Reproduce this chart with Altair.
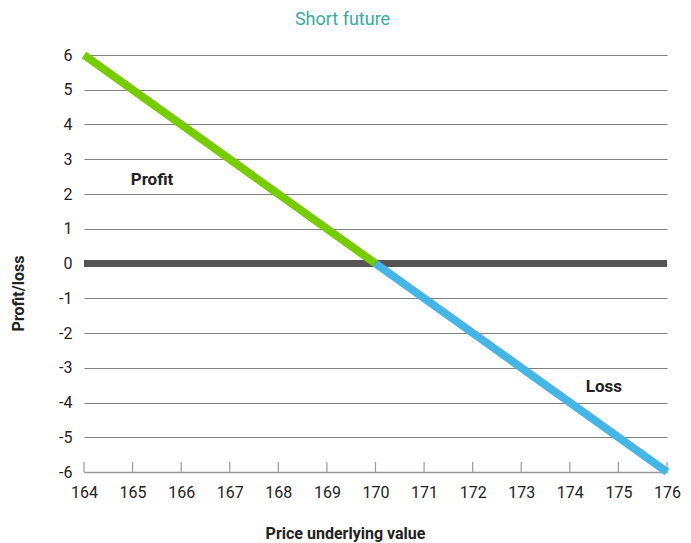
import altair as alt
import pandas as pd

price = [164, 170, 176]
profit_line = [6, 0, None]
loss_line = [None, 0, -6]
x_ticks = list(range(164, 177))
y_ticks = list(range(-6, 7))
labels_text = ["Profit", "Loss"]
labels_x = [165.4, 174.7]
labels_y = [2.4, -3.55]

W, H = 583, 417
FONT = "Roboto"

rows = []
for p, v in zip(price, profit_line):
    if v is not None:
        rows.append({"price": p, "value": v, "series": "Profit"})
for p, v in zip(price, loss_line):
    if v is not None:
        rows.append({"price": p, "value": v, "series": "Loss"})
df = pd.DataFrame(rows)

xs = alt.Scale(domain=[164, 176], nice=False, zero=False)
ys = alt.Scale(domain=[-6, 6], nice=False, zero=False)

x_axis = alt.Axis(
    values=x_ticks, ticks=False, grid=False, domain=True,
    domainColor="#999999", domainWidth=1.5,
    labelFont=FONT, labelFontSize=16, labelColor="#222222",
    labelPadding=12, labelFlush=False, labelExpr="toString(datum.value)",
    title="Price underlying value", titleFont=FONT, titleFontSize=16,
    titleFontWeight="bold", titleColor="#222222",
    titleX=261, titleY=61, titleBaseline="middle",
)
y_axis = alt.Axis(
    values=y_ticks, ticks=False, domain=False, grid=True,
    gridColor="#808080", gridWidth=1, labelOverlap=False,
    labelFont=FONT, labelFontSize=16, labelColor="#222222",
    labelPadding=12, labelExpr="toString(datum.value)",
    title="Profit/loss", titleFont=FONT, titleFontSize=16,
    titleFontWeight="bold", titleColor="#222222",
    titleX=-66, titleY=238, titleBaseline="middle",
)

X = alt.X("price:Q", scale=xs, axis=x_axis)
Y = alt.Y("value:Q", scale=ys, axis=y_axis)

tick_df = pd.DataFrame({"price": x_ticks})
ticks = alt.Chart(tick_df).mark_rule(color="#999999", strokeWidth=1.2).encode(
    x=X,
    y=alt.value(H - 10),
    y2=alt.value(H),
)

zero_df = pd.DataFrame({"value": [0]})
zero = alt.Chart(zero_df).mark_rule(color="#555555", strokeWidth=7).encode(
    y=Y,
)

lines = alt.Chart(df).mark_line(strokeWidth=8, strokeCap="butt").encode(
    x=X,
    y=Y,
    color=alt.Color("series:N",
                    scale=alt.Scale(domain=["Profit", "Loss"], range=["#77cc00", "#45b5e5"]),
                    legend=None),
    detail="series:N",
)

lab_df = pd.DataFrame({"t": labels_text, "price": labels_x, "value": labels_y})
texts = alt.Chart(lab_df).mark_text(font=FONT, fontSize=17, fontWeight="bold", color="#222222").encode(
    x=X,
    y=Y,
    text="t:N",
)

chart = alt.layer(zero, ticks, lines, texts).properties(
    width=W, height=H,
    title=alt.TitleParams("Short future", font=FONT, fontSize=18, fontWeight="normal",
                          color="#3aaba0", anchor="middle", dx=-33, offset=10),
    autosize=alt.AutoSizeParams(type="none"),
    padding={"left": 76, "top": 47, "right": 16, "bottom": 70},
).configure_view(stroke=None)

chart.save("out.html", embed_options={"renderer": "svg", "actions": False})
